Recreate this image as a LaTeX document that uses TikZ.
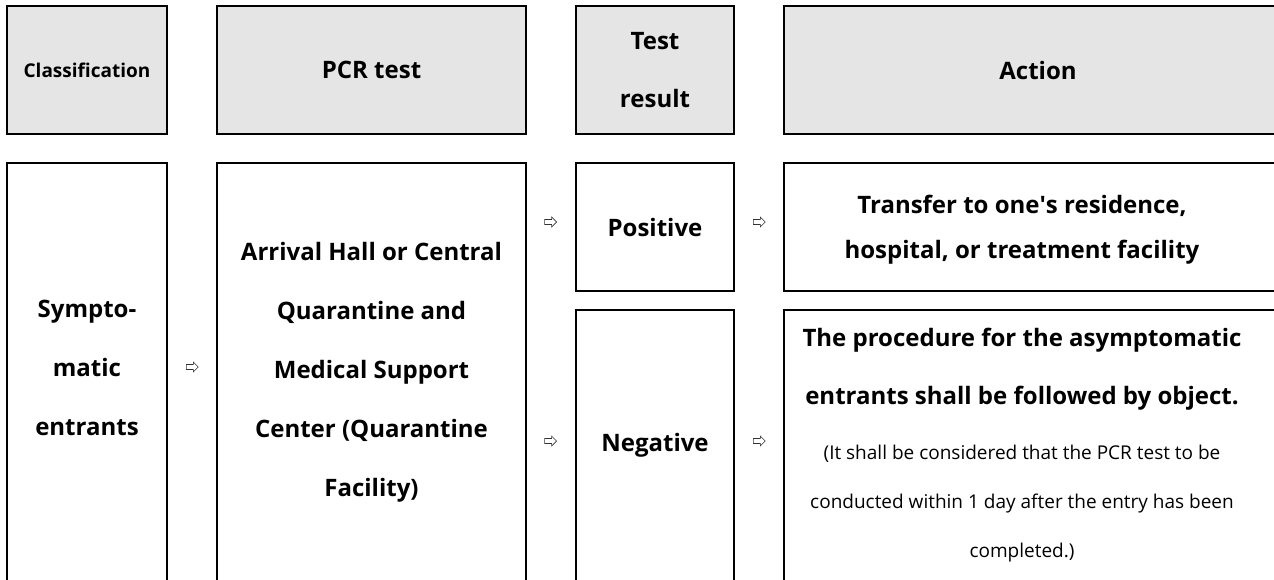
\documentclass[tikz,border=0pt]{standalone}
\usepackage{fontspec}
\setmainfont{Open Sans}
\usepackage{xcolor}
\usetikzlibrary{shapes.arrows,positioning}
\definecolor{headgray}{RGB}{229,229,229}

\begin{document}
\begin{tikzpicture}[
        x=1pt, y=1pt,
        node distance=50pt,
        box/.style={rectangle, draw, line width=1.2pt, outer sep=0pt, inner sep=0pt, align=flush center},
        head/.style={box, fill=headgray, minimum height=128pt, font=\bfseries\fontsize{24}{58}\selectfont},
        body/.style={box, font=\bfseries\fontsize{24}{59}\selectfont},
        frame/.style={line width=1.2pt},
        arrowmark/.style={single arrow, draw=black!80, line width=0.6pt, inner sep=0pt, inner ysep=2.2pt, single arrow head extend=2.5pt, minimum height=12pt}
    ]
        \useasboundingbox (0,0) rectangle (1274,-579);

        % header row
        \node[head, minimum width=160pt, anchor=north west, font=\bfseries\fontsize{19}{22}\selectfont] (clshead) at (7,-6) {Classification};
        \node[head, minimum width=309pt, right=of clshead] (pcrhead) {PCR test};
        \node[head, minimum width=158pt, right=of pcrhead] (reshead) {Test\\result};
        \node[head, minimum width=508pt, right=of reshead] (acthead) {Action};

        % body row
        \node[body, minimum width=160pt, minimum height=418pt, text depth=9pt, below=29pt of clshead] (clsbody) {Sympto-\\matic\\entrants};
        \node[body, minimum width=309pt, minimum height=418pt, right=of clsbody] (pcrbody) {Arrival Hall or Central\\Quarantine and\\Medical Support\\Center (Quarantine\\Facility)};
        \node[body, minimum width=158pt, minimum height=128pt, below=29pt of reshead] (positive) {Positive};
        \node[body, minimum width=158pt, minimum height=271pt, below=19pt of positive] (negative) {Negative};
        \node[body, draw=none, minimum width=476pt, minimum height=128pt, text depth=-2pt, font=\bfseries\fontsize{24}{45}\selectfont, below right=29pt and 0pt of acthead.south west] (transfer) {Transfer to one\textquotesingle s residence,\\hospital, or treatment facility};
        \node[body, draw=none, minimum width=476pt, minimum height=271pt, text width=470pt, below=19pt of transfer] (procedure) {%
            {\bfseries\fontsize{24}{58}\selectfont The procedure for the asymptomatic\\entrants shall be followed by object.\par}
            \vspace{6pt}
            {\mdseries\fontsize{19}{49}\selectfont (It shall be considered that the PCR test to be\\conducted within 1 day after the entry has been\\completed.)\par}};

        % open frames of the action cells
        \draw[frame] ([xshift=40pt]transfer.north east) -- (transfer.north west) -- (transfer.south west) -- ([xshift=40pt]transfer.south east);
        \draw[frame] ([xshift=40pt]procedure.north east) -- (procedure.north west) -- (procedure.south west);

        % flow marks
        \node[arrowmark, right=19pt of clsbody, yshift=5pt] (toPcr) {};
        \node[arrowmark, left=19pt of positive, yshift=5pt] (toPos) {};
        \node[arrowmark, left=19pt of negative, yshift=4.5pt] (toNeg) {};
        \node[arrowmark, right=19pt of positive, yshift=5pt] (posAct) {};
        \node[arrowmark, right=19pt of negative, yshift=4.5pt] (negAct) {};
    \end{tikzpicture}
\end{document}
